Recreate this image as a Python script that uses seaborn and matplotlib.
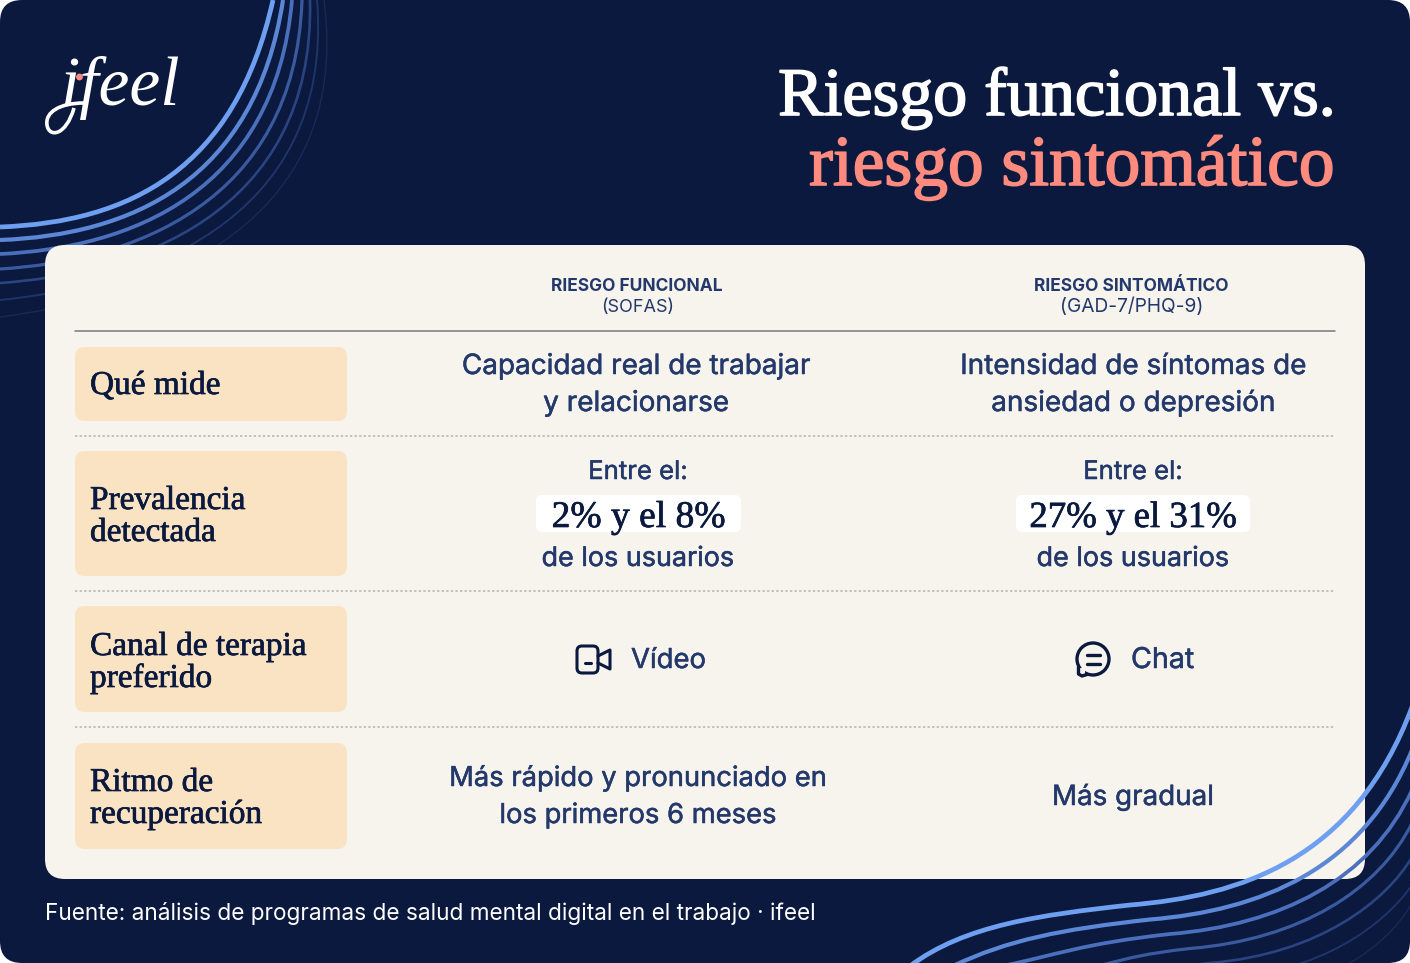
import matplotlib
matplotlib.use('Agg')
import matplotlib.pyplot as plt
import matplotlib.patheffects as pe
import seaborn as sns
from matplotlib.patches import FancyBboxPatch, PathPatch, Circle, Rectangle
from matplotlib.path import Path

title_top = 'Riesgo funcional vs.'
title_bottom = 'riesgo sintomático'
col_heads = ['RIESGO FUNCIONAL', 'RIESGO SINTOMÁTICO']
col_subs = ['(SOFAS)', '(GAD-7/PHQ-9)']
row_labels = [['Qué mide'], ['Prevalencia', 'detectada'], ['Canal de terapia', 'preferido'], ['Ritmo de', 'recuperación']]
mide = [['Capacidad real de trabajar', 'y relacionarse'], ['Intensidad de síntomas de', 'ansiedad o depresión']]
prevalencia = ['2% y el 8%', '27% y el 31%']
canal = ['Vídeo', 'Chat']
ritmo = [['Más rápido y pronunciado en', 'los primeros 6 meses'], ['Más gradual']]
fuente = 'Fuente: análisis de programas de salud mental digital en el trabajo · ifeel'

NAVY = '#0A193D'
CARD = '#F7F3ED'
PEACH = '#FAE3C3'
TXT = '#24396B'
CORAL = '#FF8A7E'
SERIF = 'Liberation Serif'
SANS = 'Inter'

sns.set_theme(style='white')
fig = plt.figure(figsize=(14.1, 9.63), dpi=100, facecolor='white')
ax = fig.add_axes([0, 0, 1, 1])
ax.axis('off')


def round_box(x0, y0, x1, y1, r, color, z=1):
    box = FancyBboxPatch((x0 + r, y0 + r), x1 - x0 - 2 * r, y1 - y0 - 2 * r,
                         boxstyle='round,pad=%f,rounding_size=%f' % (r, r),
                         fc=color, ec='none', zorder=z)
    ax.add_patch(box)
    return box


def thick(t, w):
    t.set_path_effects([pe.withStroke(linewidth=w, foreground=t.get_color())])
    return t


def cell(x, y, s, size, ha='center'):
    return thick(ax.text(x, y, s, family=SANS, size=size, color=TXT, ha=ha, zorder=5), 0.35)


bg = round_box(0, 0, 1410, 963, 22, NAVY, 0)
round_box(45, 245, 1365, 879, 20, CARD, 2)

# curves, 1 is the brightest one
tl_y0 = [227, 240, 254, 269, 283, 300, 317]
tl_x3 = [273, 283, 292, 302, 310, 317, 324]
tl_c1y = [222, 235, 248, 261, 274, 287, 300]
tl_c2 = [(235, 170), (255, 182), (275, 193), (295, 205), (315, 217), (335, 228), (355, 240)]
tl_lw = [3.4, 3.0, 2.7, 2.3, 1.9, 1.4, 1.0]
cols = sns.blend_palette(['#6E9FF0', '#5C87D6', '#4A6FBC', '#3A5AA0', '#2A4482', '#1F3569', '#172A58'], 7)
for i in range(7):
    p = [(0, tl_y0[i]), (130, tl_c1y[i]), tl_c2[i], (tl_x3[i], 0)]
    patch = PathPatch(Path(p, [Path.MOVETO, Path.CURVE4, Path.CURVE4, Path.CURVE4]), fc='none', ec=cols[i], lw=tl_lw[i], zorder=1)
    ax.add_patch(patch)
    patch.set_clip_path(bg)

br_start = [910, 953, 1002, 1060, 1125, 1205, 1300]
br_end = [707, 750, 790, 823, 857, 885, 903]
for i in range(7):
    jx = 1130 + i * 20
    jy = 905 + i * 14.5
    p = [(br_start[i], 966), (br_start[i] + 55, 925 + i * 15), (jx - 90, jy + 10), (jx, jy),
         (jx + 110, jy - 9), (1355 + i * 8, 860 + i * 10), (1412, br_end[i])]
    patch = PathPatch(Path(p, [Path.MOVETO] + [Path.CURVE4] * 6), fc='none', ec=cols[i], lw=tl_lw[i], zorder=3)
    ax.add_patch(patch)
    patch.set_clip_path(bg)

# logo
ax.text(60, 105, 'ifeel', family=SERIF, style='italic', size=50, color='white', zorder=5)
ax.add_patch(Circle((79.5, 77), 3.4, fc=CORAL, ec='none', zorder=6))
loop = [(84, 103), (60, 103), (45, 112), (47, 125), (49, 138), (66, 136), (74, 108)]
ax.add_patch(PathPatch(Path(loop, [Path.MOVETO] + [Path.CURVE4] * 6), fc='none', ec='white', lw=2.6, zorder=5))

# title
thick(ax.text(1335, 115, title_top, family=SERIF, size=49, color='white', ha='right', zorder=5), 1.2)
thick(ax.text(1335, 185, title_bottom, family=SERIF, size=51.4, color=CORAL, ha='right', zorder=5), 1.2)

# table
col_x = [638, 1133]
head_x = [637, 1131]
sub_size = [13, 13.8]
for i in range(2):
    ax.text(head_x[i], 291, col_heads[i], family=SANS, size=12.5, weight='bold', color=TXT, ha='center', zorder=5)
    ax.text(head_x[i] + 1, 312, col_subs[i], family=SANS, size=sub_size[i], color=TXT, ha='center', zorder=5)

sns.lineplot(x=[75, 1335], y=[331, 331], ax=ax, color='#77777D', lw=1.1, errorbar=None, zorder=4)
for y in [436, 591, 727]:
    sns.lineplot(x=[75, 1335], y=[y, y], ax=ax, color='#B4B2AE', lw=1.1, linestyle=(0, (1.5, 1.5)), errorbar=None, zorder=4)

row_top = [347, 451, 606, 743]
row_bot = [421, 576, 712, 849]
row_base = [[394], [509, 541], [655, 687], [791, 823]]
for i in range(4):
    round_box(75, row_top[i], 347, row_bot[i], 10, PEACH, 3)
    for s, y in zip(row_labels[i], row_base[i]):
        thick(ax.text(90, y, s, family=SERIF, size=24, color=NAVY, zorder=5), 0.5)

for i in range(2):
    for s, y in zip(mide[i], [374, 411]):
        cell(col_x[i] - 2 * (1 - i), y, s, 20.1)
    cell(col_x[i], 479, 'Entre el:', 18.5)
    cell(col_x[i], 566, 'de los usuarios', 19.4)

hl_x0 = [536, 1016]
hl_x1 = [741, 1250]
hl_size = [27, 26.5]
for i in range(2):
    round_box(hl_x0[i], 495, hl_x1[i], 532, 6, 'white', 3)
    thick(ax.text((hl_x0[i] + hl_x1[i]) / 2, 527, prevalencia[i], family=SERIF, size=hl_size[i], color=NAVY, ha='center', zorder=5), 0.5)

for s, y in zip(ritmo[0], [786, 823]):
    cell(638, y, s, 19.7)
cell(1133, 805, ritmo[1][0], 20)

cell(631, 668, canal[0], 19.8, 'left')
cell(1131, 668, canal[1], 20.6, 'left')

# video icon
ax.add_patch(FancyBboxPatch((580, 649), 15, 21, boxstyle='round,pad=3,rounding_size=5', fc='none', ec=NAVY, lw=2.2, zorder=5))
ax.plot([585, 591], [663, 663], color=NAVY, lw=2.2, solid_capstyle='round', zorder=5)
ax.plot([598, 610, 610, 598], [656, 650, 669, 663], color=NAVY, lw=2.2, solid_joinstyle='round', zorder=5)
# chat icon
ax.add_patch(Circle((1093, 659), 16, fc='none', ec=NAVY, lw=2.4, zorder=5))
ax.add_patch(Rectangle((1077, 668), 8, 8, fc=CARD, ec='none', zorder=5))
ax.plot([1078.5, 1078.5, 1082, 1087], [667, 674, 676, 674.5], color=NAVY, lw=2.4, solid_capstyle='round', zorder=6)
ax.plot([1087, 1100], [655, 655], color=NAVY, lw=2.4, solid_capstyle='round', zorder=6)
ax.plot([1087, 1100], [664, 664], color=NAVY, lw=2.4, solid_capstyle='round', zorder=6)

# footer
ax.text(45, 920, fuente, family=SANS, size=16.25, color='white', zorder=5)

ax.set_xlim(0, 1410)
ax.set_ylim(963, 0)
fig.savefig('out.png', dpi=100, facecolor='white')
